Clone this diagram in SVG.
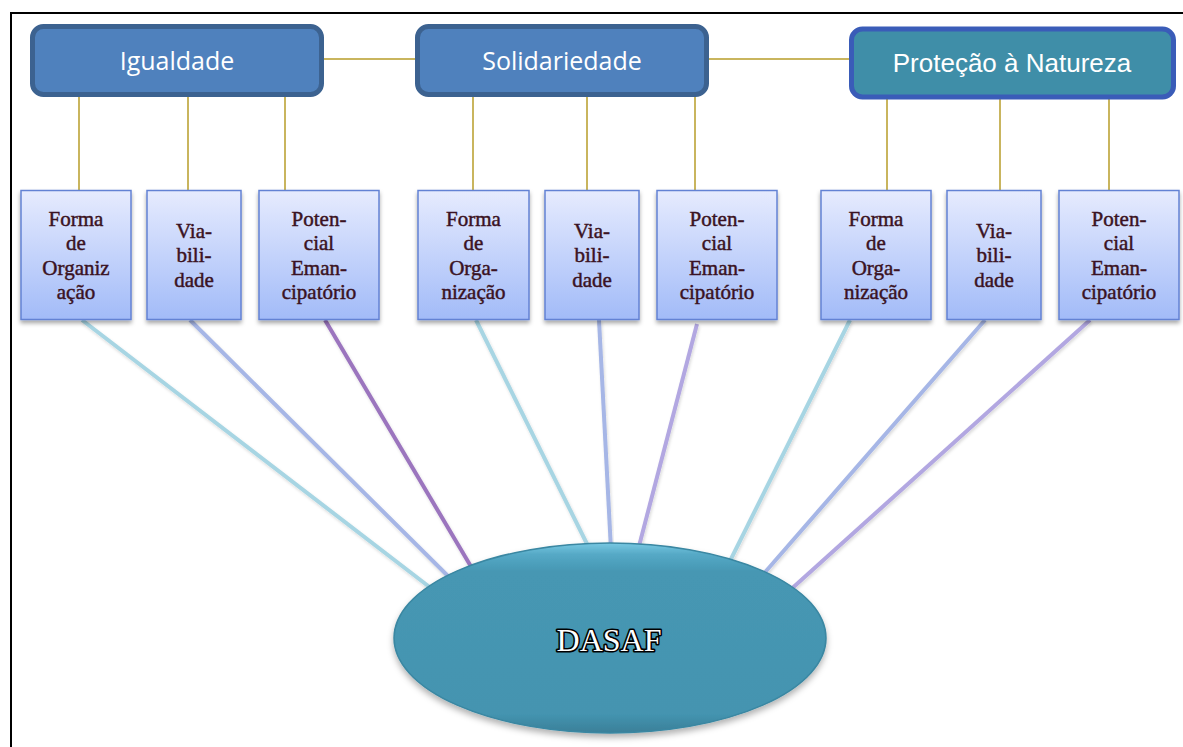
<svg xmlns="http://www.w3.org/2000/svg" width="1183" height="747" viewBox="0 0 1183 747">
<style>
.top{stroke-width:5}
.topt{font-family:"Open Sans","Noto Sans",sans-serif;font-size:25px;fill:#ffffff;text-anchor:middle}
.topt2{font-family:"Liberation Sans",Arial,sans-serif;font-size:26px;fill:#ffffff;text-anchor:middle}
.gold{stroke:#C9B55E;stroke-width:2;fill:none}
.box{fill:url(#boxg);stroke:#6382D4;stroke-width:1.5;filter:url(#sh)}
.bt{font-family:"Liberation Serif","Times New Roman",serif;font-size:21px;fill:#3A1222;stroke:#3A1222;stroke-width:0.45;text-anchor:middle}
.ln{stroke-width:4;fill:none;stroke-linecap:butt;filter:url(#lsh)}
.c1{stroke:#A7D5E3}
.c2{stroke:#A6B6E6}
.c3{stroke:#9B74BE}
.c4{stroke:#B2A7E1}
</style>
<defs>
<linearGradient id="boxg" x1="0" y1="0" x2="0" y2="1">
<stop offset="0" stop-color="#E6EBFE"/>
<stop offset="1" stop-color="#A2BBF8"/>
</linearGradient>
<linearGradient id="ellg" x1="0" y1="0" x2="0" y2="1">
<stop offset="0" stop-color="#78C8E2"/>
<stop offset="0.06" stop-color="#55A9C6"/>
<stop offset="0.15" stop-color="#4697B3"/>
<stop offset="0.9" stop-color="#4494B0"/>
<stop offset="1" stop-color="#3A7F98"/>
</linearGradient>
<filter id="sh" x="-20%" y="-20%" width="140%" height="140%">
<feDropShadow dx="0" dy="3" stdDeviation="2" flood-color="#000" flood-opacity="0.35"/>
</filter>
<filter id="lsh" x="-20%" y="-20%" width="140%" height="140%">
<feDropShadow dx="1" dy="2" stdDeviation="1.5" flood-color="#000" flood-opacity="0.15"/>
</filter>
<filter id="esh" x="-10%" y="-10%" width="120%" height="130%">
<feDropShadow dx="0" dy="4" stdDeviation="3" flood-color="#000" flood-opacity="0.3"/>
</filter>
</defs>
<rect width="1183" height="747" fill="#ffffff"/>
<path d="M11 747 V13 H1183" fill="none" stroke="#000" stroke-width="2"/>

<g id="connectors">
<line class="gold" x1="324" y1="59" x2="415" y2="59"/>
<line class="gold" x1="709" y1="59" x2="849" y2="59"/>
<line class="gold" x1="79" y1="96" x2="79" y2="190"/>
<line class="gold" x1="188" y1="96" x2="188" y2="190"/>
<line class="gold" x1="285" y1="96" x2="285" y2="190"/>
<line class="gold" x1="473" y1="96" x2="473" y2="190"/>
<line class="gold" x1="587" y1="96" x2="587" y2="190"/>
<line class="gold" x1="695" y1="96" x2="695" y2="190"/>
<line class="gold" x1="887" y1="98" x2="887" y2="190"/>
<line class="gold" x1="1000" y1="98" x2="1000" y2="190"/>
<line class="gold" x1="1109" y1="98" x2="1109" y2="190"/>
<line class="ln c1" x1="82" y1="320" x2="436" y2="592"/>
<line class="ln c2" x1="190" y1="320" x2="454" y2="582"/>
<line class="ln c3" x1="325" y1="320" x2="476" y2="575"/>
<line class="ln c1" x1="476" y1="320" x2="590" y2="550"/>
<line class="ln c2" x1="599" y1="320" x2="611" y2="550"/>
<line class="ln c4" x1="697" y1="324" x2="638" y2="550"/>
<line class="ln c1" x1="850" y1="320" x2="728" y2="565"/>
<line class="ln c2" x1="985" y1="320" x2="760" y2="578"/>
<line class="ln c4" x1="1090" y1="320" x2="788" y2="592"/>
</g>

<g id="n-igualdade">
<rect class="top" x="32.5" y="26.5" width="289" height="68" rx="11" fill="#4F81BD" stroke="#3C6290"/>
<text class="topt" x="177" y="70">Igualdade</text>
</g>
<g id="n-solidariedade">
<rect class="top" x="417.5" y="26.5" width="289" height="68" rx="11" fill="#4F81BD" stroke="#3C6290"/>
<text class="topt" x="562" y="70">Solidariedade</text>
</g>
<g id="n-protecao">
<rect class="top" x="851.5" y="29" width="322" height="68" rx="11" fill="#3F8EA8" stroke="#3A5CB8"/>
<text class="topt2" x="1012" y="72">Proteção à Natureza</text>
</g>

<g id="n-forma1">
<rect class="box" x="21" y="190.5" width="110" height="129"/>
<text class="bt" x="76" y="225.5">Forma</text>
<text class="bt" x="76" y="250">de</text>
<text class="bt" x="76" y="274.5">Organiz</text>
<text class="bt" x="76" y="299">ação</text>
</g>
<g id="n-via1">
<rect class="box" x="147" y="190.5" width="94" height="129"/>
<text class="bt" x="194" y="237.5">Via-</text>
<text class="bt" x="194" y="262">bili-</text>
<text class="bt" x="194" y="286.5">dade</text>
</g>
<g id="n-pot1">
<rect class="box" x="259" y="190.5" width="120" height="129"/>
<text class="bt" x="319" y="225.5">Poten-</text>
<text class="bt" x="319" y="250">cial</text>
<text class="bt" x="319" y="274.5">Eman-</text>
<text class="bt" x="319" y="299">cipatório</text>
</g>

<g id="n-forma2">
<rect class="box" x="418" y="190.5" width="111" height="129"/>
<text class="bt" x="473.5" y="225.5">Forma</text>
<text class="bt" x="473.5" y="250">de</text>
<text class="bt" x="473.5" y="274.5">Orga-</text>
<text class="bt" x="473.5" y="299">nização</text>
</g>
<g id="n-via2">
<rect class="box" x="545" y="190.5" width="94" height="129"/>
<text class="bt" x="592" y="237.5">Via-</text>
<text class="bt" x="592" y="262">bili-</text>
<text class="bt" x="592" y="286.5">dade</text>
</g>
<g id="n-pot2">
<rect class="box" x="657" y="190.5" width="120" height="129"/>
<text class="bt" x="717" y="225.5">Poten-</text>
<text class="bt" x="717" y="250">cial</text>
<text class="bt" x="717" y="274.5">Eman-</text>
<text class="bt" x="717" y="299">cipatório</text>
</g>

<g id="n-forma3">
<rect class="box" x="821" y="190.5" width="110" height="129"/>
<text class="bt" x="876" y="225.5">Forma</text>
<text class="bt" x="876" y="250">de</text>
<text class="bt" x="876" y="274.5">Orga-</text>
<text class="bt" x="876" y="299">nização</text>
</g>
<g id="n-via3">
<rect class="box" x="947" y="190.5" width="94" height="129"/>
<text class="bt" x="994" y="237.5">Via-</text>
<text class="bt" x="994" y="262">bili-</text>
<text class="bt" x="994" y="286.5">dade</text>
</g>
<g id="n-pot3">
<rect class="box" x="1059" y="190.5" width="120" height="129"/>
<text class="bt" x="1119" y="225.5">Poten-</text>
<text class="bt" x="1119" y="250">cial</text>
<text class="bt" x="1119" y="274.5">Eman-</text>
<text class="bt" x="1119" y="299">cipatório</text>
</g>

<g id="n-dasaf">
<ellipse cx="610" cy="638" rx="216" ry="95" fill="url(#ellg)" stroke="#3A87A2" stroke-width="1.5" filter="url(#esh)"/>
<text x="609" y="651" font-family="'Liberation Serif','Times New Roman',serif" font-size="32" text-anchor="middle" fill="#ffffff" stroke="#000000" stroke-width="3.2" paint-order="stroke" stroke-linejoin="round">DASAF</text>
</g>
</svg>
